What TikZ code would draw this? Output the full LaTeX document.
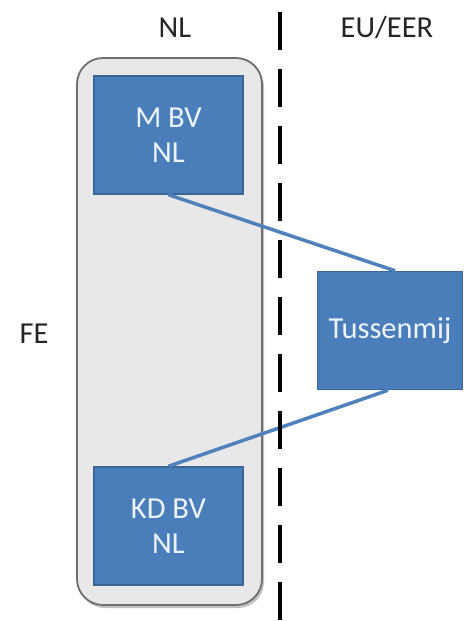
\documentclass[tikz,border=0pt]{standalone}
\usepackage{fontspec}
\setmainfont{Carlito}
\usetikzlibrary{shadows,calc}
\definecolor{boxfill}{HTML}{4A7EBB}
\definecolor{boxedge}{HTML}{3B6596}
\definecolor{linkblue}{HTML}{4F81BD}
\definecolor{panelfill}{HTML}{E8E8E8}
\definecolor{paneledge}{HTML}{6F6F6F}
\definecolor{boxtext}{HTML}{EEF3FA}
\tikzset{
  entity/.style={draw=boxedge, line width=1.5pt, fill=boxfill, text=boxtext,
    minimum width=149pt, minimum height=118pt, inner sep=0pt,
    font=\fontsize{30.5}{35}\selectfont, align=center},
  region/.style={font=\fontsize{30.5}{35}\selectfont, text=black!85, inner sep=0pt},
  link/.style={draw=linkblue, line width=3.5pt},
  border/.style={draw=black, line width=3.3pt, dash pattern=on 38pt off 19pt},
  panel/.style={draw=paneledge, line width=1.8pt, fill=panelfill, rounded corners=26pt,
    drop shadow={shadow xshift=2pt, shadow yshift=-3pt, fill=black!40, opacity=0.6}}
}
\begin{document}
\begin{tikzpicture}[x=1pt,y=-1pt]
\useasboundingbox (0,0) rectangle (465,621);
\fill[white] (0,0) rectangle (465,621);
\draw[panel] (77,58) rectangle (262,605);
\node[entity] (mbv) at (168.5,135) {M BV\\NL};
\node[entity] (kdbv) at (168.5,526) {KD BV\\NL};
\node[entity, minimum width=145pt] (tm) at (390,330.5) {Tussenmij};
\coordinate (tmtop) at ($(tm.north)+(5,0)$);
\coordinate (tmbot) at ($(tm.south)+(-2,0)$);
\draw[link] (mbv.south) -- (tmtop);
\draw[link] (kdbv.north) -- (tmbot);
\coordinate (dtop) at (280,12);
\coordinate (dbot) at (280,621);
\draw[border] (dtop) -- (dbot);
\node[region, anchor=base] (nl) at (175,37) {NL};
\node[region, anchor=base] (eu) at (387,37) {EU/EER};
\node[region, anchor=base] (fe) at (34,343) {FE};
\end{tikzpicture}
\end{document}
